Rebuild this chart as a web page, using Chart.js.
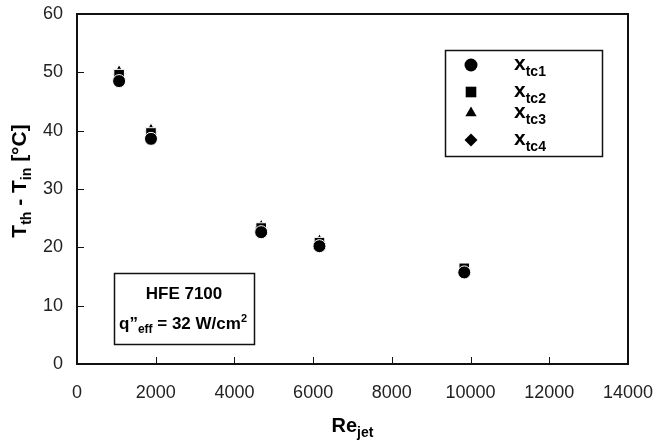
<!DOCTYPE html>
<html>
<head>
<meta charset="utf-8">
<script src="https://cdn.jsdelivr.net/npm/chart.js@4"></script>
<style>
  html, body { margin: 0; padding: 0; background: #fff; }
  #wrap { width: 656px; height: 446px; }
</style>
</head>
<body>
<div id="wrap"><canvas id="myChart" width="656" height="446"></canvas></div>
<script>
// Re_jet positions of the five runs
var reJet = [1070, 1880, 4680, 6160, 9840]
// T_th - T_in for each thermocouple
var xtc1 = [48.5, 38.6, 22.6, 20.2, 15.7]
var xtc2 = [49.6, 39.6, 23.3, 20.8, 16.4]
var xtc3 = [50.2, 40.2, 23.7, 21.2, 16.2]
var xtc4 = [49.7, 39.8, 23.4, 20.9, 16.1]
var seriesSubs = ['tc1', 'tc2', 'tc3', 'tc4']
var seriesStyles = ['circle', 'rect', 'triangle', 'rectRot']
var seriesRadius = [6.5, 7.5, 6.5, 6.5]
var xTicks = [0, 2000, 4000, 6000, 8000, 10000, 12000, 14000]
var yTicks = [0, 10, 20, 30, 40, 50, 60]

var FONT = '"Liberation Sans", Arial, sans-serif'

function pts(ys) {
  return reJet.map(function (x, i) { return { x: x, y: ys[i] } })
}

function makeSet(ys, idx) {
  return {
    label: 'x' + seriesSubs[idx],
    data: pts(ys),
    pointStyle: seriesStyles[idx],
    pointRadius: seriesRadius[idx],
    backgroundColor: '#000',
    borderColor: '#fff',
    borderWidth: 1,
    showLine: false
  }
}

// text with a subscript / superscript part
function richText(ctx, parts, x, y, align) {
  var total = 0
  parts.forEach(function (p) {
    ctx.font = 'bold ' + p.size + 'px ' + FONT
    total += ctx.measureText(p.t).width
  })
  var cx = align == 'center' ? x - total / 2 : x
  parts.forEach(function (p) {
    ctx.font = 'bold ' + p.size + 'px ' + FONT
    ctx.fillText(p.t, cx, y + (p.dy || 0))
    cx += ctx.measureText(p.t).width
  })
  return total
}

var decor = {
  id: 'decor',
  afterDraw: function (chart) {
    var ctx = chart.ctx
    var a = chart.chartArea
    var xs = chart.scales.x, ys = chart.scales.y
    ctx.save()
    ctx.strokeStyle = '#111'
    ctx.lineWidth = 2
    ctx.strokeRect(a.left, a.top, a.right - a.left, a.bottom - a.top)
    // inward ticks
    ctx.lineWidth = 1
    ctx.beginPath()
    xTicks.forEach(function (v) {
      var px = Math.round(xs.getPixelForValue(v)) + 0.5
      ctx.moveTo(px, a.bottom); ctx.lineTo(px, a.bottom - 7)
    })
    yTicks.forEach(function (v) {
      var py = Math.round(ys.getPixelForValue(v)) + 0.5
      ctx.moveTo(a.left, py); ctx.lineTo(a.left + 7, py)
    })
    ctx.stroke()

    ctx.fillStyle = '#000'
    ctx.textBaseline = 'alphabetic'

    // axis titles
    richText(ctx, [{ t: 'Re', size: 20 }, { t: 'jet', size: 14, dy: 5 }], (a.left + a.right) / 2, 432, 'center')
    ctx.save()
    ctx.translate(26, (a.top + a.bottom) / 2 - 8)
    ctx.rotate(-Math.PI / 2)
    richText(ctx, [
      { t: 'T', size: 21 }, { t: 'th', size: 14, dy: 5 },
      { t: ' - T', size: 21 }, { t: 'in', size: 14, dy: 5 },
      { t: ' [\u00b0C]', size: 21 }
    ], 0, 0, 'center')
    ctx.restore()

    // legend box
    ctx.lineWidth = 1.5
    ctx.strokeRect(445.5, 50.5, 157, 106)
    var rowsY = [65, 92, 113, 140]
    chart.data.datasets.forEach(function (ds, i) {
      Chart.helpers.drawPoint(ctx, {
        pointStyle: ds.pointStyle,
        radius: seriesRadius[i],
        borderWidth: 0
      }, 471, rowsY[i])
      ctx.fillStyle = '#000'
      richText(ctx, [{ t: 'x', size: 21 }, { t: seriesSubs[i], size: 14, dy: 6 }], 514, rowsY[i] + 5, 'left')
    })

    // annotation box
    ctx.strokeRect(114.5, 273.5, 140, 71)
    richText(ctx, [{ t: 'HFE 7100', size: 17 }], 184, 299, 'center')
    richText(ctx, [
      { t: 'q\u201d', size: 17 }, { t: 'eff', size: 12, dy: 4 },
      { t: ' = 32 W/cm', size: 17 }, { t: '2', size: 11, dy: -7 }
    ], 183, 329, 'center')
    ctx.restore()
  }
}

var data = {
  datasets: [makeSet(xtc1, 0), makeSet(xtc2, 1), makeSet(xtc3, 2), makeSet(xtc4, 3)]
}

const config = {
  type: 'scatter',
  data,
  options: {
    responsive: false,
    animation: false,
    layout: { padding: { left: 0, top: 14, right: 28, bottom: 0 } },
    plugins: { legend: { display: false }, tooltip: { enabled: false } },
    scales: {
      x: {
        type: 'linear', min: 0, max: 14000,
        afterBuildTicks: function (s) { s.ticks = xTicks.map(function (v) { return { value: v } }) },
        afterFit: function (s) { s.height = 82; s.paddingLeft = 0; s.paddingRight = 0 },
        grid: { display: false, drawTicks: false },
        border: { display: false },
        ticks: {
          padding: 18, color: '#222', font: { family: FONT, size: 18 }, maxRotation: 0, autoSkip: false,
          callback: function (v) { return String(v) }
        }
      },
      y: {
        type: 'linear', min: 0, max: 60,
        afterBuildTicks: function (s) { s.ticks = yTicks.map(function (v) { return { value: v } }) },
        afterFit: function (s) { s.width = 77; s.paddingTop = 0; s.paddingBottom = 0 },
        grid: { display: false, drawTicks: false },
        border: { display: false },
        ticks: { padding: 14, color: '#222', font: { family: FONT, size: 18 } }
      }
    }
  },
  plugins: [decor]
}

var myChart = new Chart(document.getElementById('myChart'), config)
</script>
</body>
</html>
